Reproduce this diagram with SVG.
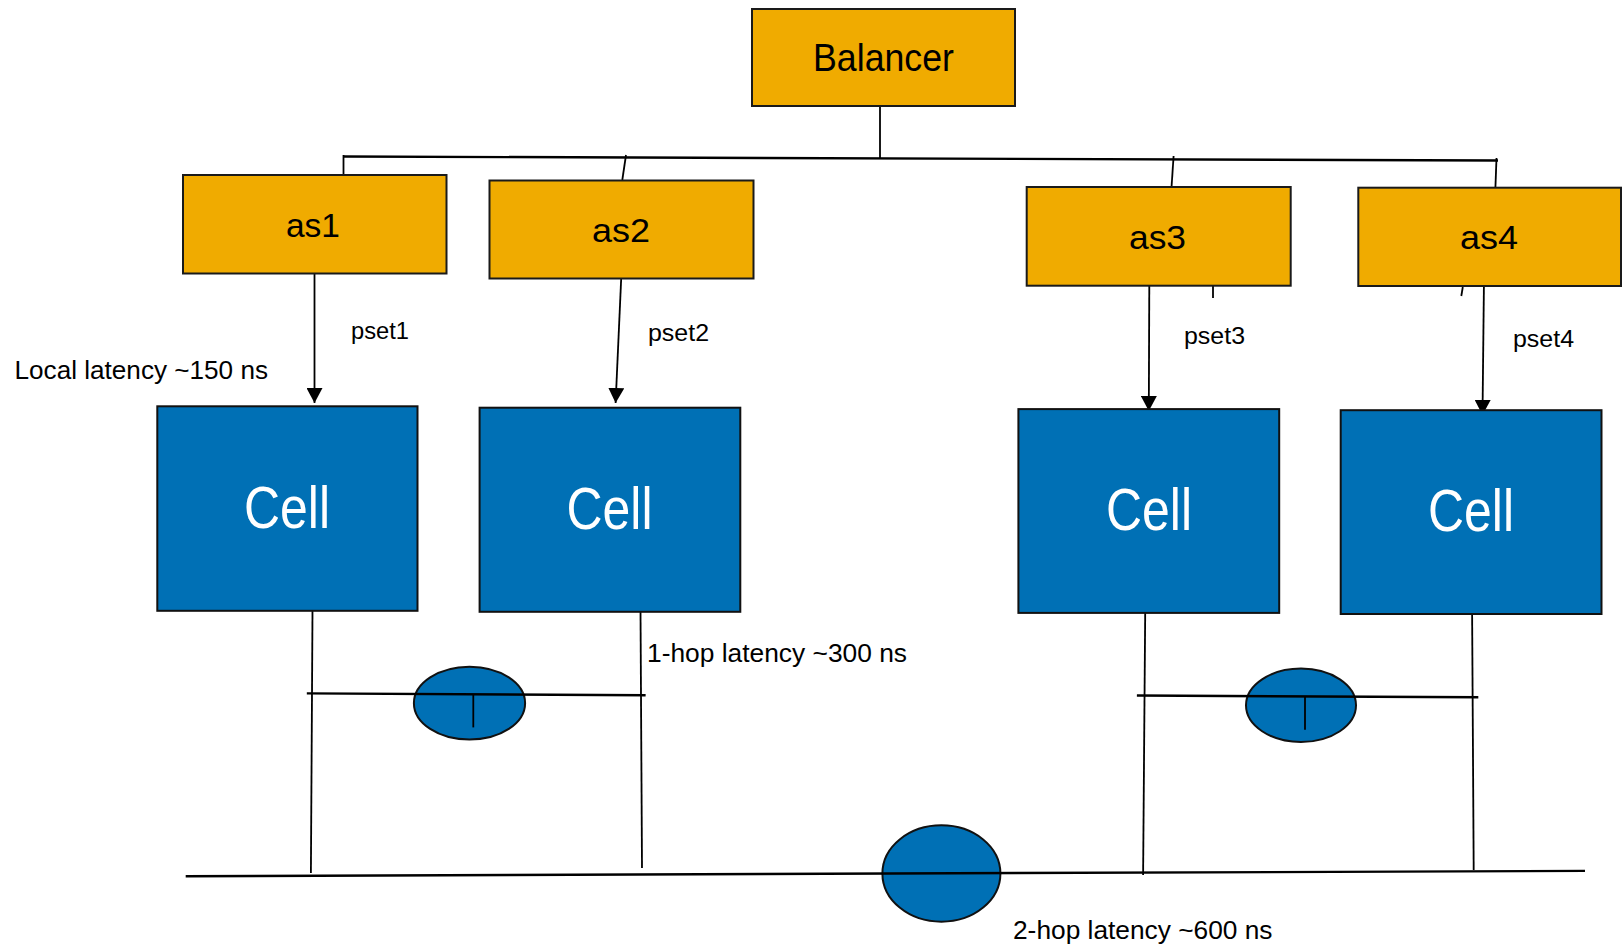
<svg xmlns="http://www.w3.org/2000/svg" width="1622" height="949" viewBox="0 0 1622 949">
  <style>
    .orange { fill: #F0AB00; stroke: #1a1a1a; stroke-width: 2; }
    .cell { fill: #0070B5; stroke: #111; stroke-width: 2; }
    .link { fill: none; stroke: #000; stroke-width: 1.8; }
    .bus { fill: none; stroke: #000; stroke-width: 2.4; }
    .lbl { font-family: "Liberation Sans", Arial, sans-serif; fill: #000; }
    .big { font-family: "Liberation Sans", Arial, sans-serif; fill: #fff; font-size: 60px; }
  </style>
  <defs>
    <marker id="arrow" markerUnits="userSpaceOnUse" markerWidth="16" markerHeight="16" refX="15" refY="8" orient="auto">
      <path d="M0,0 L15,8 L0,16 z" fill="#000"/>
    </marker>
  </defs>
  <rect width="1622" height="949" fill="#fff"/>

  <!-- connectors -->
  <g id="connectors">
    <!-- balancer to tree bus -->
    <line class="link" x1="880" y1="106" x2="880" y2="158"/>
    <line class="bus" x1="343" y1="156.5" x2="1498" y2="160.5"/>
    <line class="link" x1="343.5" y1="155" x2="343.5" y2="175"/>
    <line class="link" x1="626" y1="155" x2="622.3" y2="180"/>
    <line class="link" x1="1173.6" y1="156" x2="1171.6" y2="186"/>
    <line class="link" x1="1496.5" y1="158" x2="1495.4" y2="188"/>
    <!-- pset arrows -->
    <line class="link" x1="314.5" y1="270" x2="314.5" y2="403" marker-end="url(#arrow)"/>
    <line class="link" x1="621.3" y1="276" x2="615.6" y2="403" marker-end="url(#arrow)"/>
    <line class="link" x1="1149.3" y1="283" x2="1148.8" y2="411" marker-end="url(#arrow)"/>
    <line class="link" x1="1484" y1="278" x2="1482.5" y2="415" marker-end="url(#arrow)"/>
    <line class="link" x1="1213" y1="286" x2="1213" y2="298"/>
    <line class="link" x1="1462.8" y1="287" x2="1461.3" y2="296"/>
    <!-- cell drops -->
    <line class="link" x1="312.5" y1="611" x2="310.9" y2="873"/>
    <line class="link" x1="640.5" y1="610" x2="642" y2="868"/>
    <line class="link" x1="1145.2" y1="613" x2="1143.1" y2="875"/>
    <line class="link" x1="1472.1" y1="612" x2="1473.7" y2="870"/>
  </g>

  <!-- local switches -->
  <g id="switch-left">
    <ellipse class="cell" cx="469.5" cy="703.2" rx="55.6" ry="36.4"/>
    <line class="bus" x1="306.8" y1="693.4" x2="645.6" y2="695.2"/>
    <line class="link" x1="473.3" y1="695" x2="473.3" y2="727.4"/>
  </g>
  <g id="switch-right">
    <ellipse class="cell" cx="1301" cy="705.3" rx="55" ry="36.7"/>
    <line class="bus" x1="1136.9" y1="695.5" x2="1478.3" y2="697.3"/>
    <line class="link" x1="1305" y1="697" x2="1305" y2="729.8"/>
  </g>

  <!-- global bus -->
  <g id="switch-global">
    <ellipse class="cell" cx="941.4" cy="873.5" rx="59" ry="48.2"/>
    <line class="bus" x1="185.7" y1="876.2" x2="1585" y2="870.9"/>
  </g>

  <!-- balancer -->
  <g id="balancer">
    <rect class="orange" x="752" y="9" width="263" height="97"/>
    <text class="lbl" x="813" y="71" font-size="39" textLength="141" lengthAdjust="spacingAndGlyphs">Balancer</text>
  </g>

  <!-- address spaces -->
  <g id="as1">
    <rect class="orange" x="183" y="175" width="263.5" height="98.5"/>
    <text class="lbl" x="286" y="237" font-size="33" textLength="54" lengthAdjust="spacingAndGlyphs">as1</text>
  </g>
  <g id="as2">
    <rect class="orange" x="489.5" y="180.5" width="264" height="98"/>
    <text class="lbl" x="592" y="242" font-size="33" textLength="58" lengthAdjust="spacingAndGlyphs">as2</text>
  </g>
  <g id="as3">
    <rect class="orange" x="1026.7" y="187" width="264" height="98.7"/>
    <text class="lbl" x="1129" y="249" font-size="33" textLength="57" lengthAdjust="spacingAndGlyphs">as3</text>
  </g>
  <g id="as4">
    <rect class="orange" x="1358.3" y="187.7" width="262.7" height="98.3"/>
    <text class="lbl" x="1460" y="249" font-size="33" textLength="58" lengthAdjust="spacingAndGlyphs">as4</text>
  </g>

  <!-- cells -->
  <g id="cell1">
    <rect class="cell" x="157.3" y="406.3" width="260.2" height="204.5"/>
    <text class="big" x="244" y="528" textLength="86" lengthAdjust="spacingAndGlyphs">Cell</text>
  </g>
  <g id="cell2">
    <rect class="cell" x="479.6" y="407.7" width="260.7" height="204.1"/>
    <text class="big" x="566.5" y="529" textLength="86" lengthAdjust="spacingAndGlyphs">Cell</text>
  </g>
  <g id="cell3">
    <rect class="cell" x="1018.4" y="409.1" width="260.8" height="203.8"/>
    <text class="big" x="1106" y="530" textLength="86" lengthAdjust="spacingAndGlyphs">Cell</text>
  </g>
  <g id="cell4">
    <rect class="cell" x="1340.7" y="410.2" width="260.8" height="203.8"/>
    <text class="big" x="1428" y="531" textLength="86" lengthAdjust="spacingAndGlyphs">Cell</text>
  </g>

  <!-- labels -->
  <g id="labels">
    <text class="lbl" x="351" y="339" font-size="24" textLength="58" lengthAdjust="spacingAndGlyphs">pset1</text>
    <text class="lbl" x="648" y="341" font-size="24" textLength="61" lengthAdjust="spacingAndGlyphs">pset2</text>
    <text class="lbl" x="1184" y="344" font-size="24" textLength="61" lengthAdjust="spacingAndGlyphs">pset3</text>
    <text class="lbl" x="1513" y="347" font-size="24" textLength="61" lengthAdjust="spacingAndGlyphs">pset4</text>
    <text class="lbl" x="14.5" y="379" font-size="26" textLength="253.5" lengthAdjust="spacingAndGlyphs">Local latency ~150 ns</text>
    <text class="lbl" x="647" y="662" font-size="26" textLength="260" lengthAdjust="spacingAndGlyphs">1-hop latency ~300 ns</text>
    <text class="lbl" x="1013" y="939" font-size="26" textLength="259.5" lengthAdjust="spacingAndGlyphs">2-hop latency ~600 ns</text>
  </g>
</svg>
